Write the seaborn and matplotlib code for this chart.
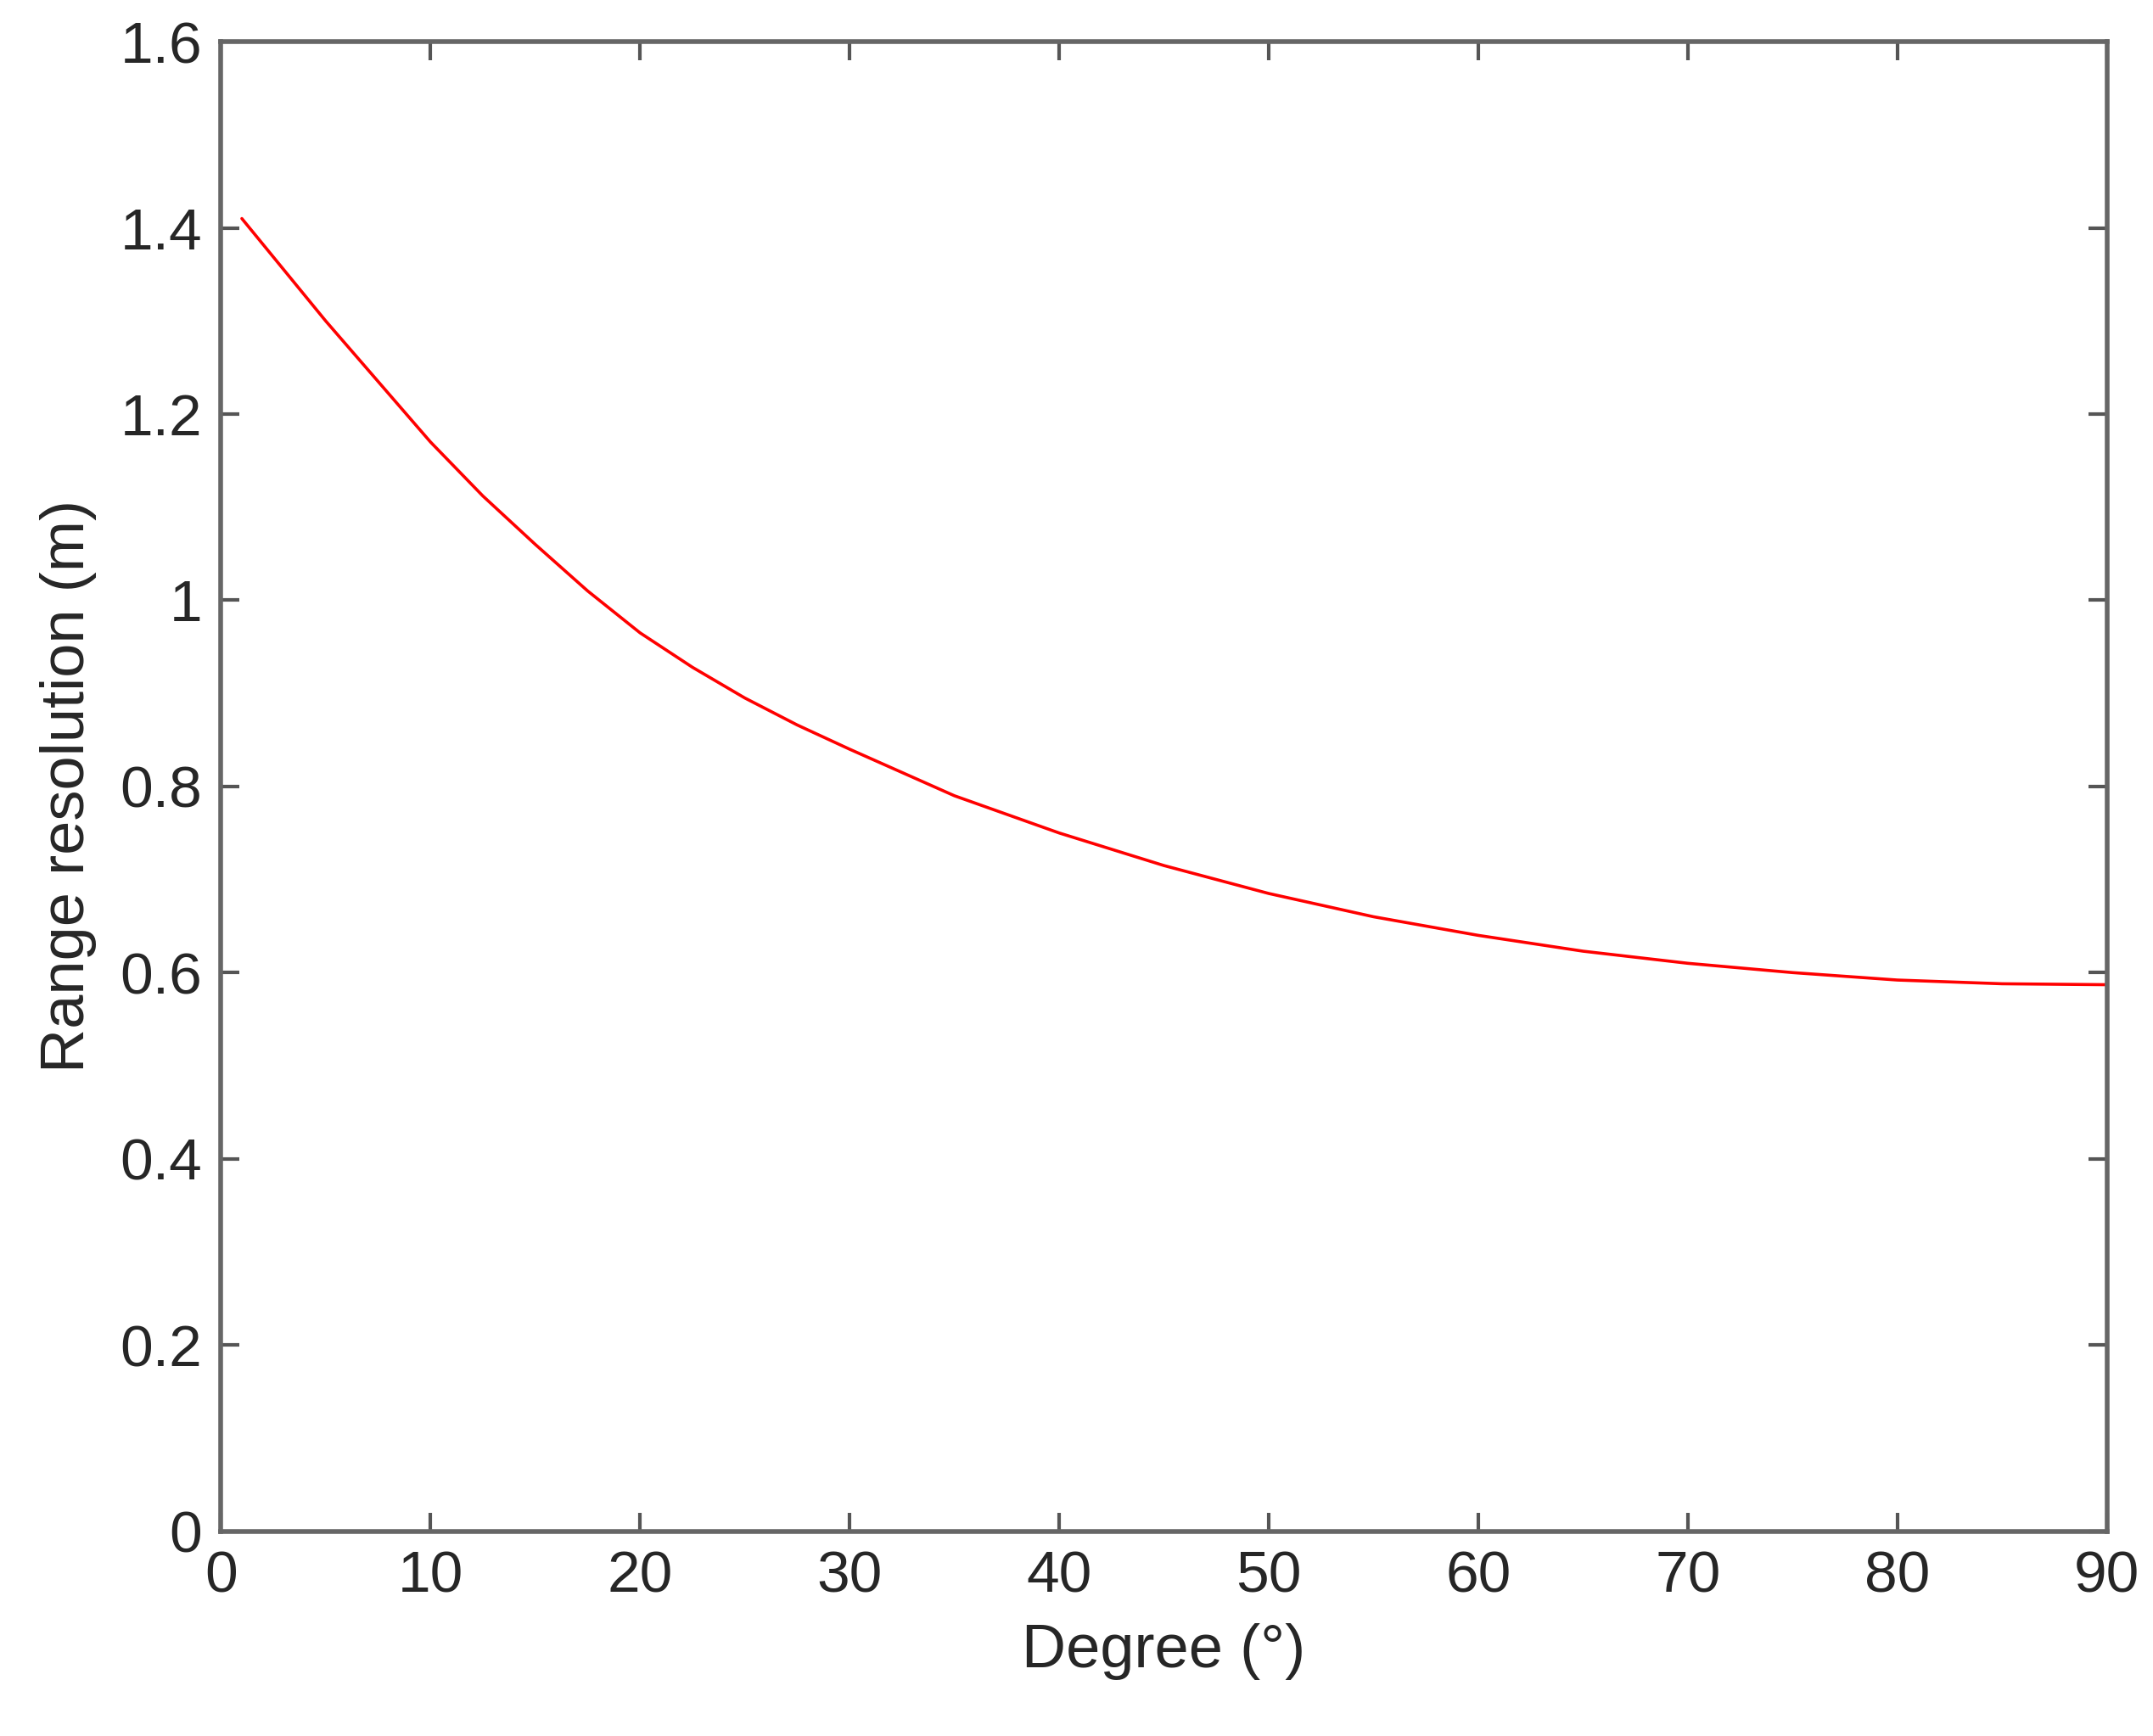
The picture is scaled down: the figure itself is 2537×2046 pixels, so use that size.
import matplotlib
matplotlib.use("Agg")
import matplotlib.pyplot as plt
import seaborn as sns
import pandas as pd

degree = [1, 3, 5, 7.5, 10, 12.5, 15, 17.5, 20, 22.5, 25, 27.5, 30, 35, 40, 45, 50, 55,
          60, 65, 70, 75, 80, 85, 90]
resolution = [1.41, 1.355, 1.30, 1.235, 1.17, 1.112, 1.06, 1.01, 0.965, 0.928, 0.895,
              0.866, 0.84, 0.79, 0.75, 0.715, 0.685, 0.66, 0.64, 0.623, 0.61, 0.60,
              0.592, 0.588, 0.587]
xticks = [0, 10, 20, 30, 40, 50, 60, 70, 80, 90]
yticks = [0, 0.2, 0.4, 0.6, 0.8, 1, 1.2, 1.4, 1.6]
ytick_labels = ["0", "0.2", "0.4", "0.6", "0.8", "1", "1.2", "1.4", "1.6"]

sns.set_style("white")
plt.rcParams['font.family'] = ['Liberation Sans', 'DejaVu Sans']

df = pd.DataFrame({"Degree": degree, "Res": resolution})
fig = plt.figure(figsize=(25.37, 20.46), dpi=100)
ax = fig.add_axes([0.1026, 0.118, 0.876, 0.858])
sns.lineplot(data=df, x="Degree", y="Res", color="red", linewidth=2.6, ax=ax)
ax.set_xlim(0, 90)
ax.set_ylim(0, 1.6)
ax.set_xticks(xticks)
ax.set_xticklabels([str(t) for t in xticks])
ax.set_yticks(yticks)
ax.set_yticklabels(ytick_labels)
c = "#262626"
ax.tick_params(direction="in", length=16, width=3, colors="#555555", labelcolor=c,
               labelsize=50, bottom=True, left=True, top=True, right=True, pad=16)
for s in ax.spines.values():
    s.set_color("#666666")
    s.set_linewidth(4)
ax.set_xlabel("Degree (°)", fontsize=52, color=c, labelpad=16)
ax.set_ylabel("Range resolution (m)", fontsize=52, color=c, labelpad=20)
fig.savefig("out.png", dpi=100, facecolor="white")
